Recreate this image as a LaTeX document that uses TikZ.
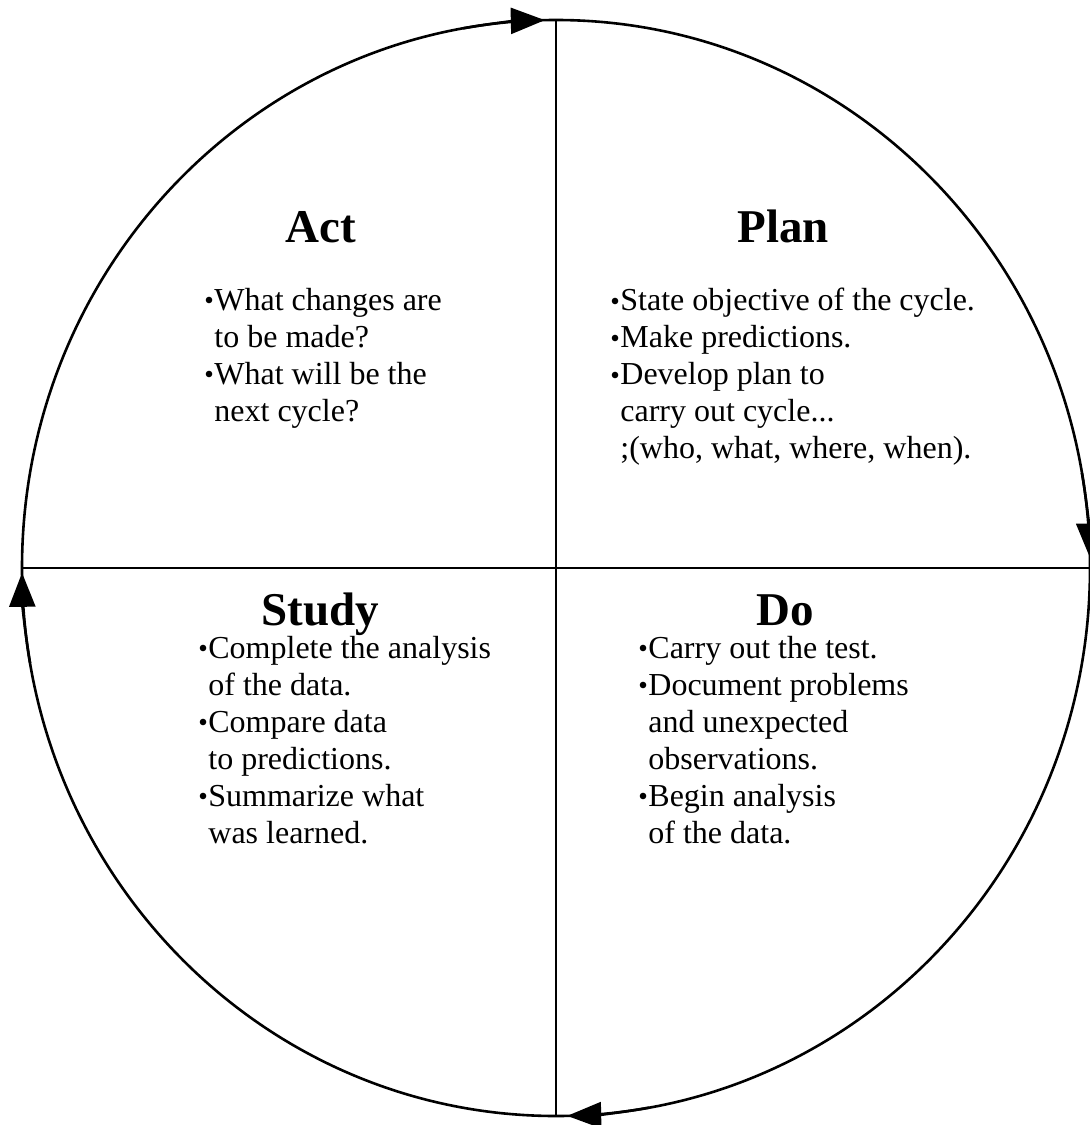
\documentclass[tikz,border=0pt]{standalone}
\usepackage{fontspec}
\setmainfont{Liberation Serif}
\usepackage{tikz}
\usetikzlibrary{arrows.meta}

\newcommand{\bitem}{\makebox[5pt][l]{\raisebox{0.02em}{\scalebox{0.85}{\textbullet}}}}
\newcommand{\bcont}{\hspace*{5pt}}

\begin{document}
\begin{tikzpicture}
[x=0.5pt, y=-0.5pt,
ring/.style={line width = 1.3pt},
cross/.style={line width = 0.9pt},
turn/.style={line width = 1.3pt, -{Triangle[length=17pt,width=13pt]}},
heading/.style={font=\fontsize{23.5}{27}\selectfont\bfseries, anchor=base, inner sep=0pt},
points/.style={font=\fontsize{16}{18.5}\selectfont, align=left, anchor=north west, inner sep=0pt}]
\useasboundingbox (0,0) rectangle (1089,1125);
\coordinate (hub) at (556,568);
\coordinate (top) at (556,20);
\coordinate (bottom) at (556,1116);
\coordinate (left) at (22,568);
\coordinate (right) at (1090,568);
\draw[ring] (hub) ellipse [x radius=534, y radius=548];
\draw[cross] (top) -- (bottom);
\draw[cross] (left) -- (right);
\draw[turn] ([shift={(260:534 and 548)}]hub) arc[start angle=260, end angle=268.8, x radius=534, y radius=548];
\draw[turn] ([shift={(350:534 and 548)}]hub) arc[start angle=350, end angle=358.9, x radius=534, y radius=548];
\draw[turn] ([shift={(80:534 and 548)}]hub) arc[start angle=80, end angle=88.8, x radius=534, y radius=548];
\draw[turn] ([shift={(170:534 and 548)}]hub) arc[start angle=170, end angle=179.5, x radius=534, y radius=548];
\node[heading] (act) at (321,242) {Act};
\node[points] (actlist) at (204,288) {\bitem What changes are\\ \bcont to be made?\\ \bitem What will be the\\ \bcont next cycle?};
\node[heading] (plan) at (783,242) {Plan};
\node[points] (planlist) at (610,288) {\bitem State objective of the cycle.\\ \bitem Make predictions.\\ \bitem Develop plan to\\ \bcont carry out cycle...\\ \bcont ;(who, what, where, when).};
\node[heading] (study) at (320,625) {Study};
\node[points] (studylist) at (198,636) {\bitem Complete the analysis\\ \bcont of the data.\\ \bitem Compare data\\ \bcont to predictions.\\ \bitem Summarize what\\ \bcont was learned.};
\node[heading] (do) at (785,625) {Do};
\node[points] (dolist) at (638,636) {\bitem Carry out the test.\\ \bitem Document problems\\ \bcont and unexpected\\ \bcont observations.\\ \bitem Begin analysis\\ \bcont of the data.};
\end{tikzpicture}
\end{document}
